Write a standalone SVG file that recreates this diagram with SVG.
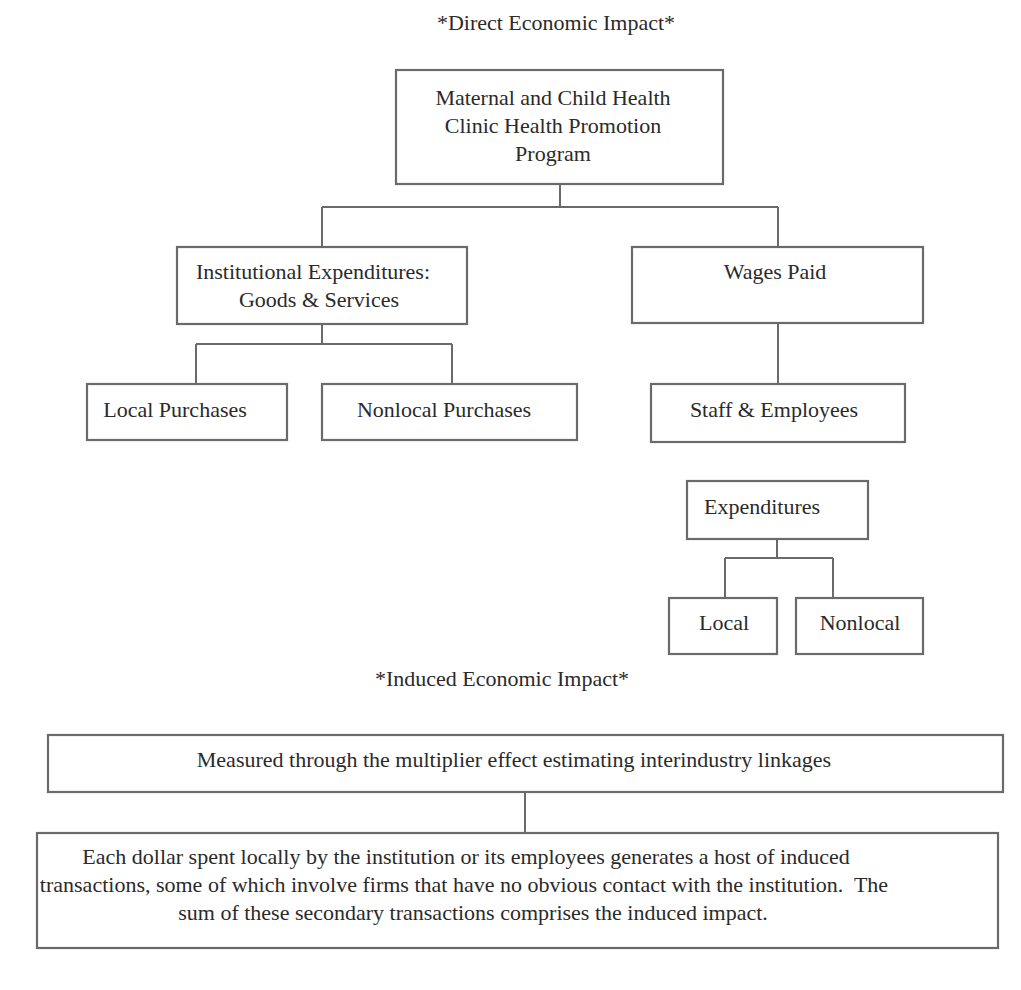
<svg xmlns="http://www.w3.org/2000/svg" width="1021" height="990" viewBox="0 0 1021 990">
<style>
rect{fill:#fff;stroke:#6a6a6a;stroke-width:2.2}
text{font-family:"Liberation Serif","Times New Roman",serif;font-size:22px;fill:#2a2a2a;text-anchor:middle}
#connectors path{fill:none;stroke:#6a6a6a;stroke-width:2}
</style>
<rect x="0" y="0" width="1021" height="990" style="fill:#fff;stroke:none"/>
<text x="556" y="30">*Direct Economic Impact*</text>
<text x="502" y="686">*Induced Economic Impact*</text>
<g id="connectors">
<path d="M560 184V207M322 207H778M322 207V247M778 207V247"/>
<path d="M322 324V344M196 344H452M196 344V384M452 344V384"/>
<path d="M778 323V384"/>
<path d="M777 539V558M725 558H833M725 558V598M833 558V598"/>
<path d="M525 792V833"/>
</g>
<g id="n-program"><rect x="396" y="70" width="327" height="114"/>
<text x="553" y="105">Maternal and Child Health</text>
<text x="553" y="133">Clinic Health Promotion</text>
<text x="553" y="161">Program</text></g>
<g id="n-institutional"><rect x="177" y="247" width="290" height="77"/>
<text x="313" y="279">Institutional Expenditures:</text>
<text x="319" y="307">Goods &amp; Services</text></g>
<g id="n-wages"><rect x="632" y="247" width="291" height="76"/>
<text x="775" y="279">Wages Paid</text></g>
<g id="n-localp"><rect x="87" y="384" width="200" height="56"/>
<text x="175" y="417">Local Purchases</text></g>
<g id="n-nonlocalp"><rect x="322" y="384" width="255" height="56"/>
<text x="444" y="417">Nonlocal Purchases</text></g>
<g id="n-staff"><rect x="651" y="384" width="254" height="58"/>
<text x="774" y="417">Staff &amp; Employees</text></g>
<g id="n-expend"><rect x="687" y="481" width="181" height="58"/>
<text x="762" y="514">Expenditures</text></g>
<g id="n-local"><rect x="669" y="598" width="108" height="56"/>
<text x="724" y="630">Local</text></g>
<g id="n-nonlocal"><rect x="796" y="598" width="127" height="56"/>
<text x="860" y="630">Nonlocal</text></g>
<g id="n-measured"><rect x="48" y="735" width="955" height="57"/>
<text x="514" y="767">Measured through the multiplier effect estimating interindustry linkages</text></g>
<g id="n-each"><rect x="37" y="833" width="961" height="115"/>
<text x="466" y="864">Each dollar spent locally by the institution or its employees generates a host of induced</text>
<text x="464" y="892" xml:space="preserve">transactions, some of which involve firms that have no obvious contact with the institution.  The</text>
<text x="473" y="920">sum of these secondary transactions comprises the induced impact.</text></g>
</svg>
